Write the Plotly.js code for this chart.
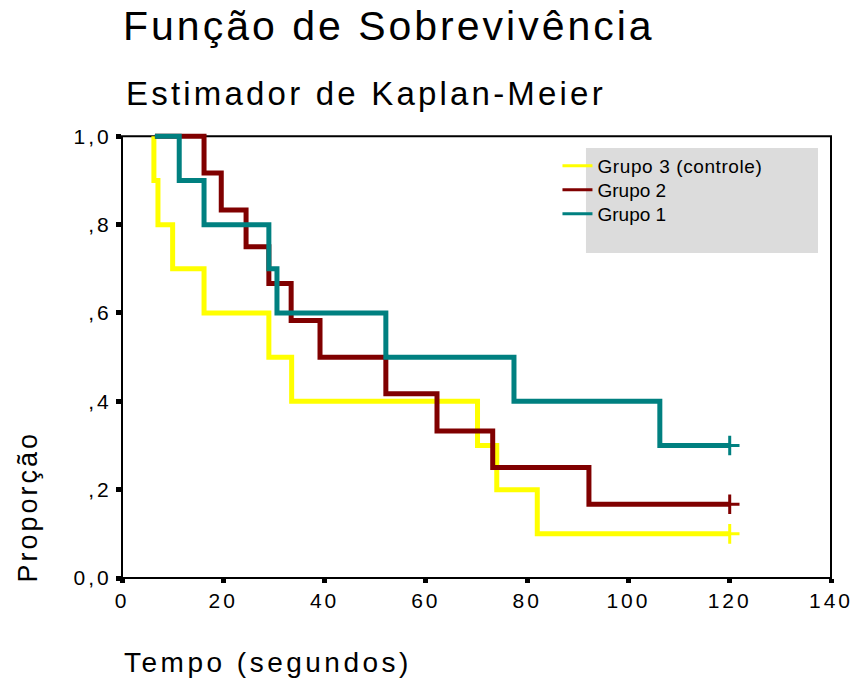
<!DOCTYPE html>
<html><head><meta charset="utf-8">
<script src="https://cdn.plot.ly/plotly-3.0.1.min.js"></script>
<style>
html,body{margin:0;padding:0;background:#fff}
#chart{width:856px;height:681px}
.gtitle{letter-spacing:3px}
.xtick text,.ytick text{letter-spacing:3px}
.legendtext{letter-spacing:0.6px}
g.annotation[data-index="0"] text{letter-spacing:3.2px}
g.annotation[data-index="1"] text{letter-spacing:3.5px}
g.annotation[data-index="2"] text{letter-spacing:3px}
</style>
</head><body><div id="chart"></div>
<script>
// Kaplan-Meier step data
const groupNames = ["Grupo 3 (controle)", "Grupo 2", "Grupo 1"];
const groupColors = ["#ffff00", "#800000", "#008080"];

const g3Time = [6.3, 6.3, 7.1, 10, 16.2, 29, 33.5, 70.2, 74, 82, 120];
const g3Surv = [1, 0.9, 0.8, 0.7, 0.6, 0.5, 0.4, 0.3, 0.2, 0.1, 0.1];

const g2Time = [6.5, 16.2, 19.6, 24.5, 29, 33.4, 39.1, 52.1, 62.2, 73.2, 92.2, 120];
const g2Surv = [1, 0.917, 0.833, 0.75, 0.667, 0.583, 0.5, 0.417, 0.333, 0.25, 0.167, 0.167];

const g1Time = [6.5, 11.3, 16.2, 29, 30.6, 52.1, 77.4, 106.2, 120];
const g1Surv = [1, 0.9, 0.8, 0.7, 0.6, 0.5, 0.4, 0.3, 0.3];

const censorTime = [120, 120, 120];

const xTickVals = [0, 20, 40, 60, 80, 100, 120, 140];
const yTickVals = [0, 0.2, 0.4, 0.6, 0.8, 1.0];
const yTickText = ["0,0", ",2", ",4", ",6", ",8", "1,0"];

const times = [g3Time, g2Time, g1Time];
const survs = [g3Surv, g2Surv, g1Surv];

const FONT = "'Liberation Sans', Arial, sans-serif";
const legendIds = ['legend', 'legend2', 'legend3'];
const traces = [];
for (let i = 0; i < 3; i++) {
  traces.push({
    x: times[i], y: survs[i], type: 'scatter', mode: 'lines',
    line: {shape: 'hv', color: groupColors[i], width: 5},
    showlegend: false, hoverinfo: 'skip'
  });
}
for (let i = 0; i < 3; i++) {
  const s = survs[i];
  traces.push({
    x: [censorTime[i]], y: [s[s.length - 1]], type: 'scatter', mode: 'markers',
    marker: {symbol: 'cross-thin', size: 14, line: {color: groupColors[i], width: 3}, color: groupColors[i]},
    showlegend: false, hoverinfo: 'skip', cliponaxis: false
  });
}
for (let i = 0; i < 3; i++) {
  traces.push({
    x: [null], y: [null], type: 'scatter', mode: 'lines', name: groupNames[i],
    legend: legendIds[i],
    line: {color: groupColors[i], width: 3}
  });
}

const legendBase = {
  x: 0.6142, xanchor: 'left', yanchor: 'top',
  bgcolor: 'rgba(0,0,0,0)', borderwidth: 0,
  font: {family: FONT, size: 19, color: '#000'}, tracegroupgap: 0
};

const yTop = 1.012;
const layout = {
  width: 856, height: 681,
  margin: {l: 122, r: 25, t: 131, b: 103},
  paper_bgcolor: '#fff', plot_bgcolor: '#fff',
  font: {family: FONT, color: '#000'},
  title: {
    text: 'Função de Sobrevivência',
    font: {family: FONT, size: 41, color: '#000'},
    xref: 'container', x: 123 / 856, xanchor: 'left',
    yref: 'container', y: 0.9827, yanchor: 'top', pad: {t: 0, b: 0, l: 0, r: 0}
  },
  xaxis: {
    range: [0, 140], tickvals: xTickVals, ticktext: xTickVals.map(String),
    showline: false, zeroline: false, showgrid: false,
    ticks: 'outside', ticklen: 4, tickwidth: 5, tickcolor: '#000',
    tickfont: {family: FONT, size: 21, color: '#000'}, fixedrange: true
  },
  yaxis: {
    range: [0, yTop], tickvals: yTickVals, ticktext: yTickText,
    showline: false, zeroline: false, showgrid: false,
    ticks: 'outside', ticklen: 5, tickwidth: 5, tickcolor: '#000',
    tickfont: {family: FONT, size: 21, color: '#000'}, fixedrange: true
  },
  legend: Object.assign({}, legendBase, {y: 0.9642}),
  legend2: Object.assign({}, legendBase, {y: 0.9105}),
  legend3: Object.assign({}, legendBase, {y: 0.8568}),
  shapes: [
    {type: 'rect', xref: 'paper', yref: 'paper', x0: 0.6544, x1: 0.9817, y0: 0.727, y1: 0.962,
     fillcolor: '#dcdcdc', line: {width: 0}, layer: 'below'},
    {type: 'rect', xref: 'paper', yref: 'paper', x0: 0, x1: 1, y0: 0, y1: 1 / yTop,
     line: {color: '#000', width: 2}, layer: 'below'}
  ],
  annotations: [
    {text: 'Estimador de Kaplan-Meier', xref: 'paper', yref: 'paper', x: 0.3436, y: 1.083,
     xanchor: 'center', yanchor: 'middle', showarrow: false, font: {family: FONT, size: 33, color: '#000'}},
    {text: 'Tempo (segundos)', xref: 'paper', yref: 'paper', x: 0.2056, y: -0.188,
     xanchor: 'center', yanchor: 'middle', showarrow: false, font: {family: FONT, size: 28, color: '#000'}},
    {text: 'Proporção', xref: 'paper', yref: 'paper', x: -0.1326, y: 0.161, textangle: -90,
     xanchor: 'center', yanchor: 'middle', showarrow: false, font: {family: FONT, size: 27, color: '#000'}}
  ]
};

Plotly.newPlot('chart', traces, layout, {displayModeBar: false, staticPlot: true});
</script>
</body></html>
